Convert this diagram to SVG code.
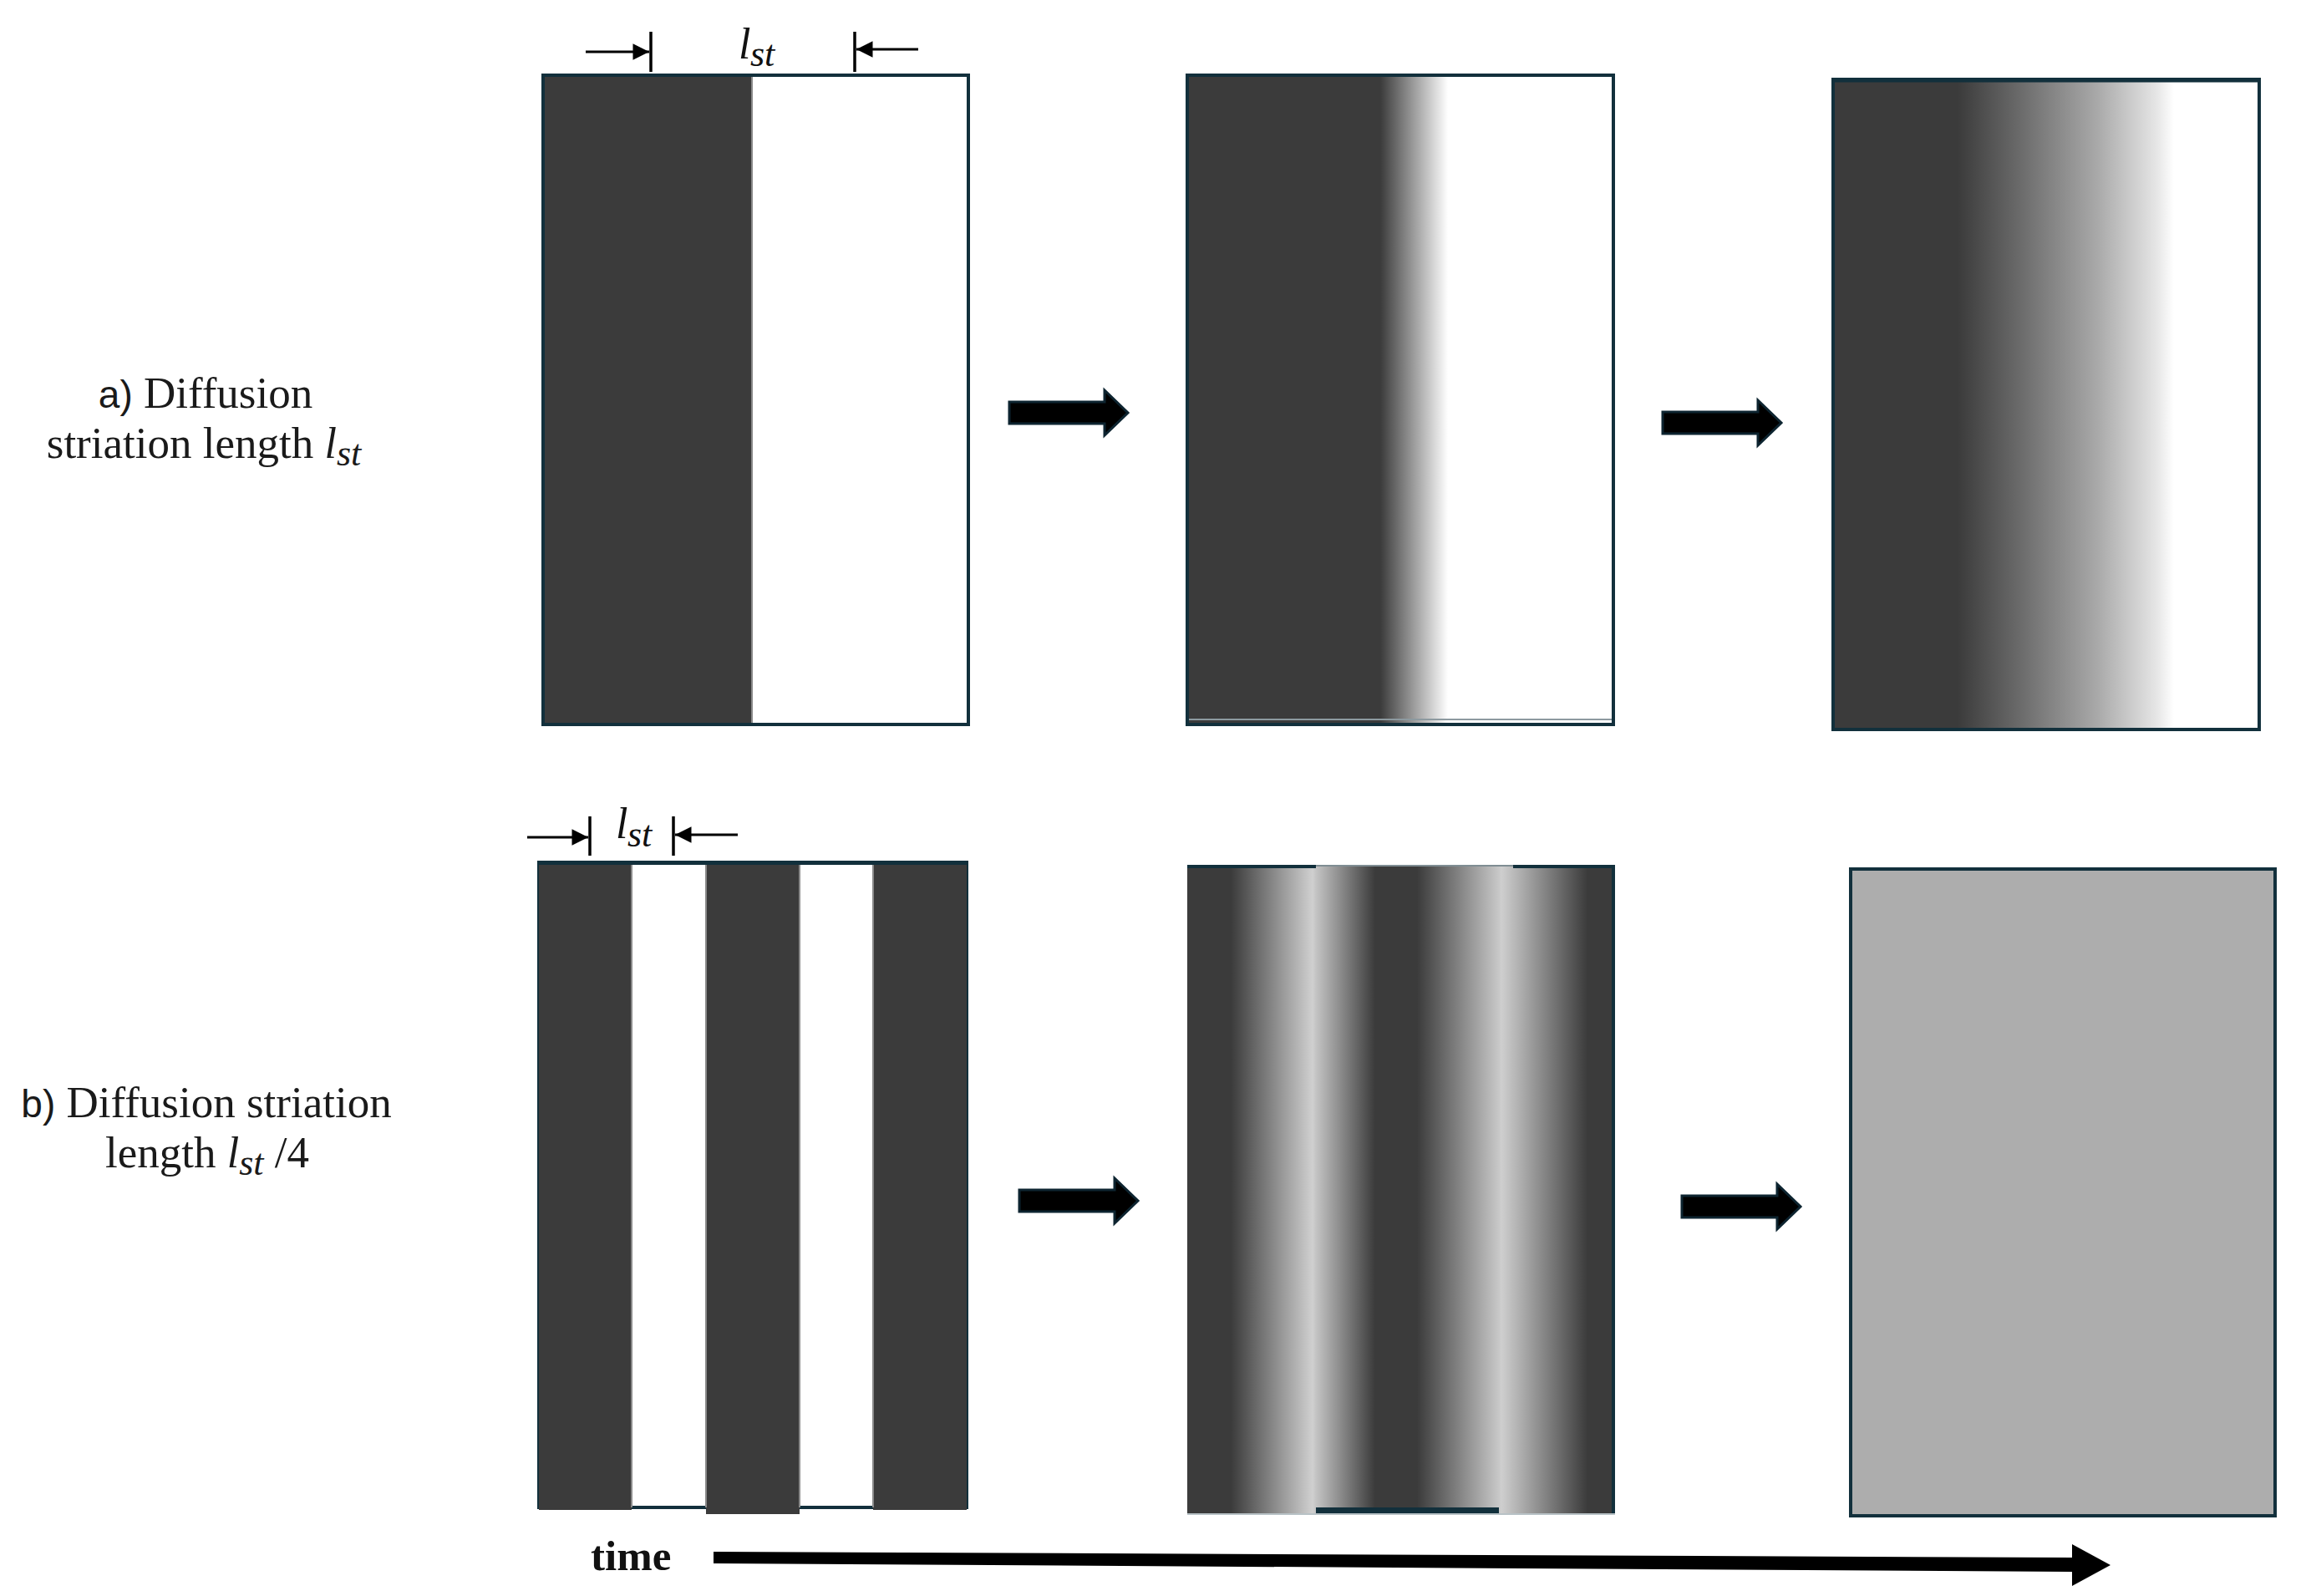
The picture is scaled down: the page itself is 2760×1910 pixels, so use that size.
<svg xmlns="http://www.w3.org/2000/svg" width="2760" height="1910" viewBox="0 0 2760 1910">
  <style>
    .lbl { font-family: "Liberation Serif", "Times New Roman", serif; font-size: 53px; fill: #1a1a1a; }
    .ab { font-family: "Liberation Sans Narrow", "Liberation Sans", Arial, sans-serif; font-size: 46px; }
    .it { font-style: italic; }
    .dim { font-family: "Liberation Serif", "Times New Roman", serif; font-style: italic; fill: #111; }
    .dimline { stroke: #000; stroke-width: 3; fill: none; }
    .tick { stroke: #000; stroke-width: 3.5; }
    .border { fill: none; stroke: #12303c; stroke-width: 4; }
    .dark { fill: #3b3b3b; }
    .block { fill: #000; stroke: #0d2430; stroke-width: 3; stroke-linejoin: miter; }
    .time { font-family: "Liberation Serif", "Times New Roman", serif; font-weight: bold; font-size: 51px; fill: #111; }
  </style>
  <defs>
    <marker id="ah" viewBox="0 0 10 10" refX="10" refY="5" markerWidth="7" markerHeight="6.5" markerUnits="strokeWidth" orient="auto">
      <path d="M0,0 L10,5 L0,10 Z" fill="#000"/>
    </marker>
    <linearGradient id="ga2" x1="0" y1="0" x2="1" y2="0">
      <stop offset="0" stop-color="#3b3b3b"/>
      <stop offset="0.453" stop-color="#3b3b3b"/>
      <stop offset="0.53" stop-color="#9a9a9a"/>
      <stop offset="0.612" stop-color="#ffffff"/>
      <stop offset="1" stop-color="#ffffff"/>
    </linearGradient>
    <linearGradient id="ga3" x1="0" y1="0" x2="1" y2="0">
      <stop offset="0" stop-color="#3b3b3b"/>
      <stop offset="0.292" stop-color="#3b3b3b"/>
      <stop offset="0.44" stop-color="#6b6b6b"/>
      <stop offset="0.62" stop-color="#a9a9a9"/>
      <stop offset="0.76" stop-color="#e6e6e6"/>
      <stop offset="0.80" stop-color="#ffffff"/>
      <stop offset="1" stop-color="#ffffff"/>
    </linearGradient>
    <linearGradient id="gb2" x1="0" y1="0" x2="1" y2="0">
      <stop offset="0" stop-color="#3b3b3b"/>
      <stop offset="0.102" stop-color="#3b3b3b"/>
      <stop offset="0.293" stop-color="#d0d0d0"/>
      <stop offset="0.301" stop-color="#c4c4c4"/>
      <stop offset="0.439" stop-color="#3b3b3b"/>
      <stop offset="0.537" stop-color="#3b3b3b"/>
      <stop offset="0.729" stop-color="#c8c8c8"/>
      <stop offset="0.734" stop-color="#cfcfcf"/>
      <stop offset="0.936" stop-color="#3b3b3b"/>
      <stop offset="1" stop-color="#3b3b3b"/>
    </linearGradient>
    <path id="blockArrow" d="M0,-13 H114 V-27 L142,0 L114,27 V13 H0 Z"/>
  </defs>

  <!-- Row labels -->
  <g id="label-a">
    <text class="lbl" x="246" y="488" text-anchor="middle"><tspan class="ab">a)</tspan> Diffusion</text>
    <text class="lbl" x="244" y="548" text-anchor="middle">striation length <tspan class="it" font-size="52">l</tspan><tspan class="it" font-size="44" dy="9">st</tspan></text>
  </g>
  <g id="label-b">
    <text class="lbl" x="247" y="1337" text-anchor="middle"><tspan class="ab">b)</tspan> Diffusion striation</text>
    <text class="lbl" x="248" y="1397" text-anchor="middle">length <tspan class="it" font-size="52">l</tspan><tspan class="it" font-size="44" dy="9">st</tspan><tspan dy="-9"> /4</tspan></text>
  </g>

  <!-- Row a panels -->
  <g id="panel-a1">
    <rect x="650" y="90" width="509" height="777" fill="#ffffff"/>
    <rect x="650" y="90" width="250" height="777" class="dark"/>
    <line x1="900" y1="92" x2="900" y2="865" stroke="#8a8a8a" stroke-width="2"/>
    <rect x="650" y="90" width="509" height="777" class="border"/>
  </g>
  <g id="panel-a2">
    <rect x="1421" y="90" width="510" height="777" fill="url(#ga2)"/>
    <rect x="1421" y="90" width="510" height="777" class="border" stroke-width="3.5"/>
    <line x1="1423" y1="861" x2="1929" y2="861" stroke="#8d9aa0" stroke-width="2"/>
  </g>
  <g id="panel-a3">
    <rect x="2194" y="95" width="510" height="778" fill="url(#ga3)"/>
    <rect x="2194" y="95" width="510" height="778" class="border" stroke-width="3.5"/>
    <line x1="2194" y1="96" x2="2704" y2="96" stroke="#12303c" stroke-width="5"/>
  </g>

  <!-- Row b panels -->
  <g id="panel-b1">
    <rect x="645" y="1032" width="512" height="772" fill="#ffffff" stroke="#12303c" stroke-width="4"/>
    <rect x="645" y="1032" width="111" height="775" class="dark"/>
    <rect x="845" y="1032" width="112" height="780" class="dark"/>
    <rect x="1045" y="1032" width="112" height="775" class="dark"/>
    <line x1="756" y1="1035" x2="756" y2="1804" stroke="#8a8a8a" stroke-width="2"/>
    <line x1="845" y1="1035" x2="845" y2="1804" stroke="#8a8a8a" stroke-width="2"/>
    <line x1="957" y1="1035" x2="957" y2="1804" stroke="#8a8a8a" stroke-width="2"/>
    <line x1="1045" y1="1035" x2="1045" y2="1804" stroke="#8a8a8a" stroke-width="2"/>
    <line x1="645" y1="1033" x2="1157" y2="1033" stroke="#12303c" stroke-width="4"/>
  </g>
  <g id="panel-b2">
    <rect x="1421" y="1035" width="512" height="776" fill="url(#gb2)"/>
    <line x1="1421" y1="1037" x2="1575" y2="1037" stroke="#12303c" stroke-width="4"/>
    <line x1="1575" y1="1036" x2="1811" y2="1036" stroke="#7f8d93" stroke-width="2"/>
    <line x1="1811" y1="1037" x2="1933" y2="1037" stroke="#12303c" stroke-width="4"/>
    <line x1="1931" y1="1035" x2="1931" y2="1811" stroke="#12303c" stroke-width="4"/>
    <rect x="1575" y="1804" width="219" height="7" fill="#12303c"/>
    <line x1="1421" y1="1812" x2="1933" y2="1812" stroke="#b8c2c6" stroke-width="2"/>
  </g>
  <g id="panel-b3">
    <rect x="2215" y="1040" width="508" height="774" fill="#adadad" stroke="#12303c" stroke-width="4"/>
  </g>

  <!-- Dimension marks -->
  <g id="dim-a">
    <line class="dimline" x1="701" y1="62" x2="777" y2="62" marker-end="url(#ah)"/>
    <line class="tick" x1="779" y1="38" x2="779" y2="86"/>
    <line class="tick" x1="1023" y1="38" x2="1023" y2="86"/>
    <line class="dimline" x1="1099" y1="59" x2="1025" y2="59" marker-end="url(#ah)"/>
    <text class="dim" x="884" y="70" font-size="52">l</text>
    <text class="dim" x="898" y="79" font-size="44">st</text>
  </g>
  <g id="dim-b">
    <line class="dimline" x1="631" y1="1002" x2="704" y2="1002" marker-end="url(#ah)"/>
    <line class="tick" x1="706" y1="977" x2="706" y2="1024"/>
    <line class="tick" x1="806" y1="977" x2="806" y2="1024"/>
    <line class="dimline" x1="883" y1="999" x2="808" y2="999" marker-end="url(#ah)"/>
    <text class="dim" x="737" y="1003" font-size="52">l</text>
    <text class="dim" x="751" y="1013" font-size="44">st</text>
  </g>

  <!-- Connectors -->
  <g id="connectors">
    <use href="#blockArrow" class="block" transform="translate(1208,494)"/>
    <use href="#blockArrow" class="block" transform="translate(1990,506)"/>
    <use href="#blockArrow" class="block" transform="translate(1220,1437)"/>
    <use href="#blockArrow" class="block" transform="translate(2013,1444)"/>
    <polygon id="time-arrow" points="854,1857 2480,1864 2480,1848 2526,1873 2480,1898 2480,1881 854,1871" fill="#000"/>
  </g>

  <g id="time-label">
    <text class="time" x="707" y="1879">time</text>
  </g>
</svg>
